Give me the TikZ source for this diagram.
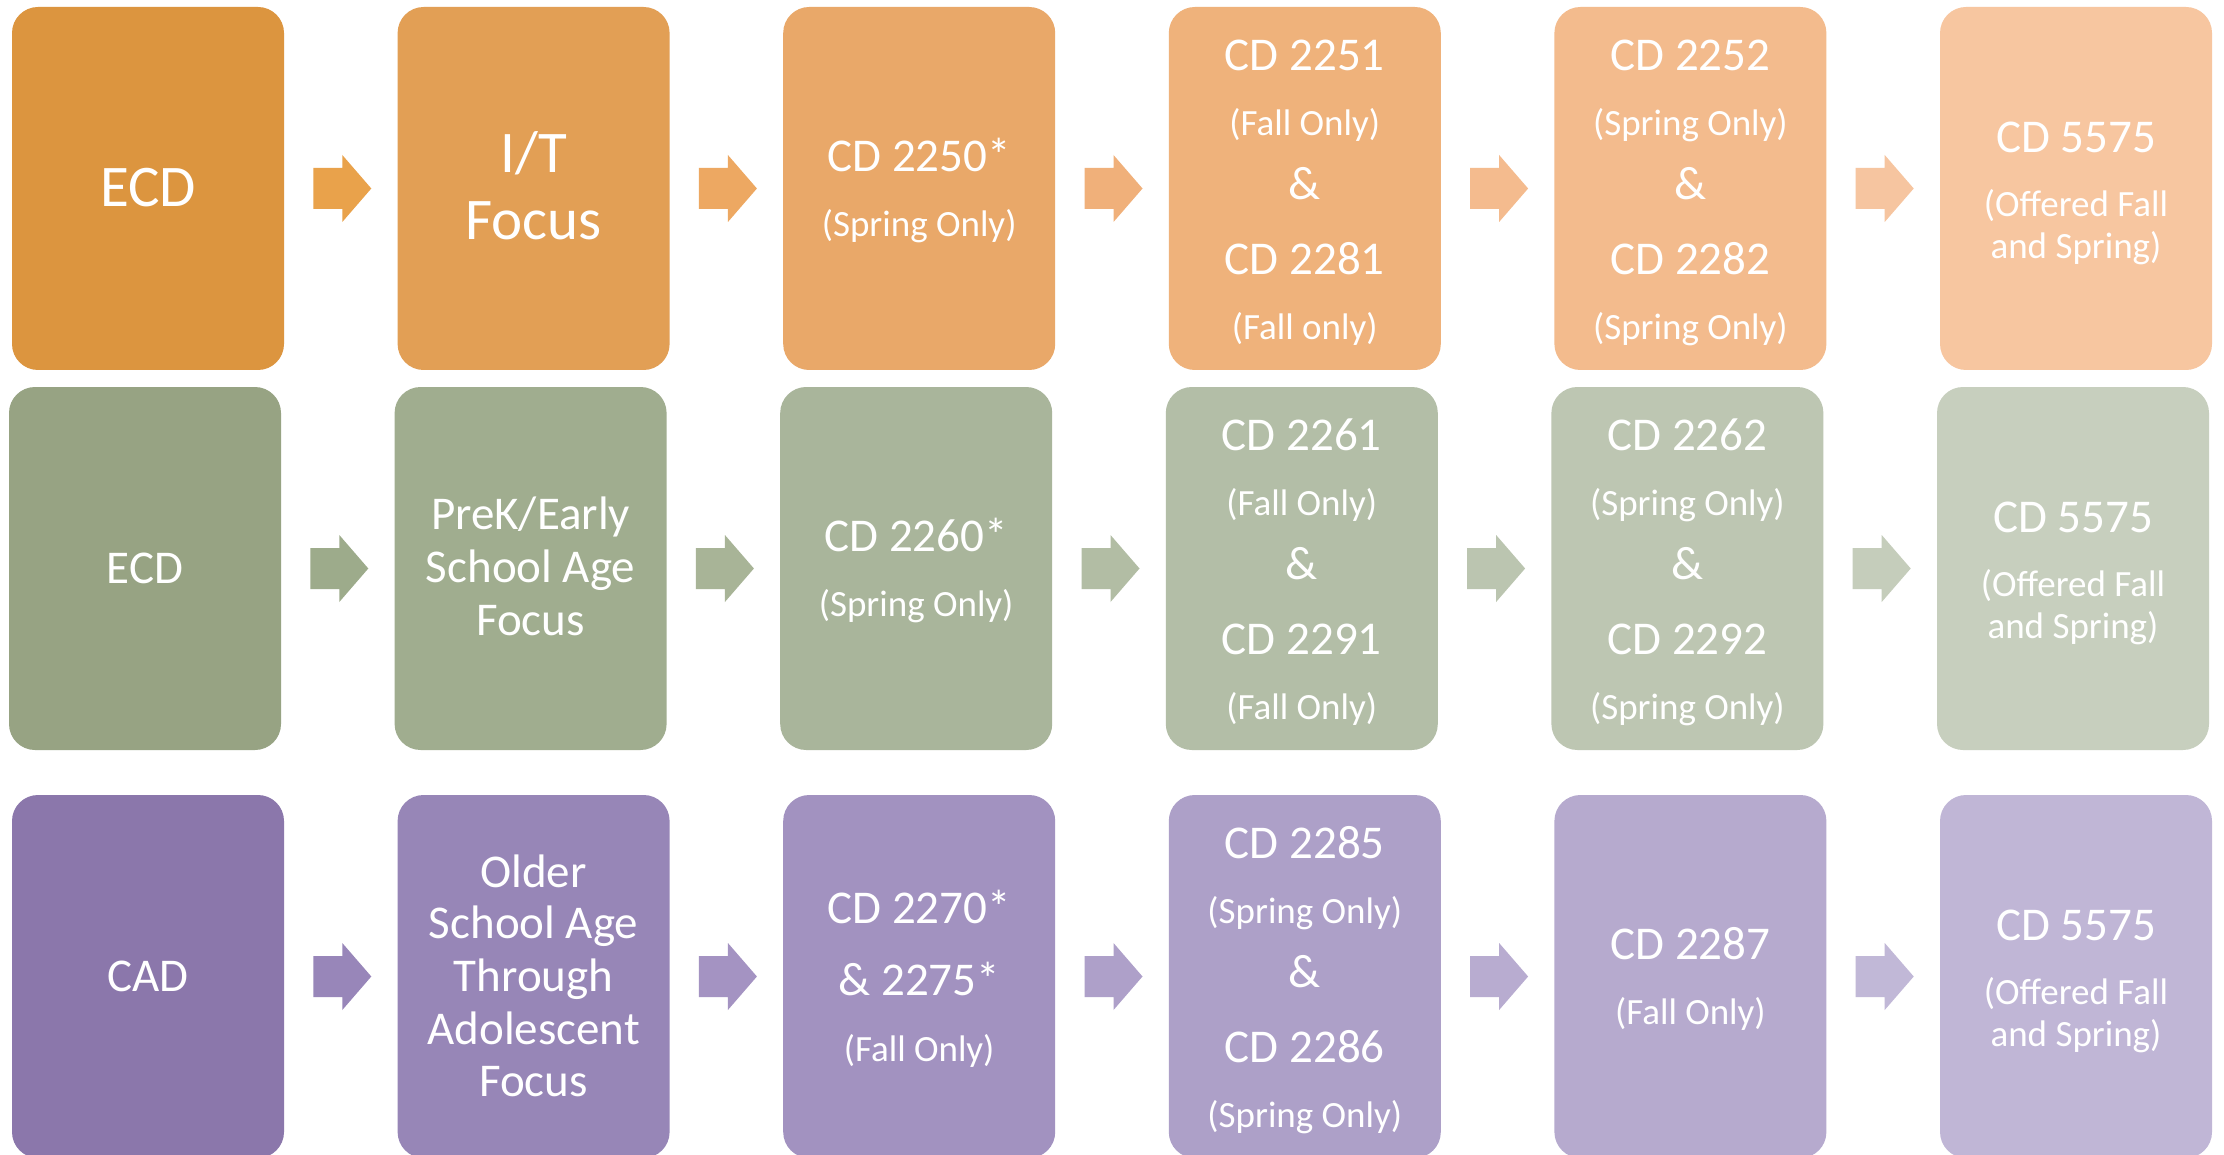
\documentclass[tikz,border=0pt]{standalone}
\usepackage{fontspec}
\setmainfont{Carlito}
\usetikzlibrary{calc}
\newcommand\Lf{\fontsize{47}{56}\selectfont}
\newcommand\Sf{\fontsize{37}{44}\selectfont}
\newcommand\Xf{\fontsize{59}{70}\selectfont}
% boxes
\definecolor{oa}{HTML}{DC953F}\definecolor{ob}{HTML}{E29F55}\definecolor{oc}{HTML}{E9A869}
\definecolor{od}{HTML}{EFB27B}\definecolor{oe}{HTML}{F3BB8D}\definecolor{of}{HTML}{F7C6A0}
\definecolor{ga}{HTML}{97A383}\definecolor{gb}{HTML}{A0AD8F}\definecolor{gc}{HTML}{A9B59B}
\definecolor{gd}{HTML}{B3BEA7}\definecolor{ge}{HTML}{BDC6B2}\definecolor{gf}{HTML}{C7CFBE}
\definecolor{pa}{HTML}{8B77AB}\definecolor{pb}{HTML}{9786B7}\definecolor{pc}{HTML}{A292C0}
\definecolor{pd}{HTML}{ADA0C8}\definecolor{pe}{HTML}{B6AACE}\definecolor{pf}{HTML}{C0B6D6}
% arrows
\definecolor{oA}{HTML}{E9A24B}\definecolor{oB}{HTML}{EDA862}\definecolor{oC}{HTML}{F0B07A}
\definecolor{oD}{HTML}{F4BB8E}\definecolor{oE}{HTML}{F6C5A0}
\definecolor{gA}{HTML}{9DAB8B}\definecolor{gB}{HTML}{A8B497}\definecolor{gC}{HTML}{B2BDA4}
\definecolor{gD}{HTML}{BBC5B0}\definecolor{gE}{HTML}{C5CDBB}
\definecolor{pA}{HTML}{9886B9}\definecolor{pB}{HTML}{A493C2}\definecolor{pC}{HTML}{AEA0C9}
\definecolor{pD}{HTML}{B8ACD0}\definecolor{pE}{HTML}{C1B8D7}
\newcommand\tline[5]{\node[tl,font=#4] (#1) at ($(#2)+(0,#3)$) {#5};}
\newcommand\barrow[4]{%
  \coordinate (#1) at ($(#2.east)!0.5!(#3.west)+(1.5,0)$);
  \fill[#4] ($(#1)+(-29,-20.5)$) -- ++(29,0) -- ++(0,-13) -- ++(29,33.5)
    -- ++(-29,33.5) -- ++(0,-13) -- ++(-29,0) -- cycle;}
\begin{document}
\begin{tikzpicture}[x=1pt,y=-1pt,
  boxst/.style={rounded corners=26pt, minimum width=272pt, minimum height=363pt,
    inner sep=0pt, draw=none},
  tl/.style={text=white, anchor=base, inner sep=0pt}]
\clip (0,0) rectangle (2224,1155);
\fill[white] (0,0) rectangle (2224,1155);
% ---------------- row 1 ----------------
\node[boxst,fill=oa] (r1c1) at (148,188.5) {};
\node[boxst,fill=ob] (r1c2) at (533.6,188.5) {};
\node[boxst,fill=oc] (r1c3) at (919.2,188.5) {};
\node[boxst,fill=od] (r1c4) at (1304.8,188.5) {};
\node[boxst,fill=oe] (r1c5) at (1690.4,188.5) {};
\node[boxst,fill=of] (r1c6) at (2076,188.5) {};
\barrow{r1a1}{r1c1}{r1c2}{oA}
\barrow{r1a2}{r1c2}{r1c3}{oB}
\barrow{r1a3}{r1c3}{r1c4}{oC}
\barrow{r1a4}{r1c4}{r1c5}{oD}
\barrow{r1a5}{r1c5}{r1c6}{oE}
\tline{t11a}{r1c1}{18}{\Xf}{ECD}
\tline{t12a}{r1c2}{-16}{\Xf}{I/T}
\tline{t12b}{r1c2}{51}{\Xf}{Focus}
\tline{t13a}{r1c3}{-17}{\Lf}{CD 2250*}
\tline{t13b}{r1c3}{48}{\Sf}{(Spring Only)}
\tline{t14a}{r1c4}{-118}{\Lf}{CD 2251}
\tline{t14b}{r1c4}{-53}{\Sf}{(Fall Only)}
\tline{t14c}{r1c4}{11}{\Lf}{\&}
\tline{t14d}{r1c4}{86}{\Lf}{CD 2281}
\tline{t14e}{r1c4}{151}{\Sf}{(Fall only)}
\tline{t15a}{r1c5}{-118}{\Lf}{CD 2252}
\tline{t15b}{r1c5}{-53}{\Sf}{(Spring Only)}
\tline{t15c}{r1c5}{11}{\Lf}{\&}
\tline{t15d}{r1c5}{86}{\Lf}{CD 2282}
\tline{t15e}{r1c5}{151}{\Sf}{(Spring Only)}
\tline{t16a}{r1c6}{-36}{\Lf}{CD 5575}
\tline{t16b}{r1c6}{28}{\Sf}{(Offered Fall}
\tline{t16c}{r1c6}{70}{\Sf}{and Spring)}
% ---------------- row 2 ----------------
\node[boxst,fill=ga] (r2c1) at (145,568.5) {};
\node[boxst,fill=gb] (r2c2) at (530.6,568.5) {};
\node[boxst,fill=gc] (r2c3) at (916.2,568.5) {};
\node[boxst,fill=gd] (r2c4) at (1301.8,568.5) {};
\node[boxst,fill=ge] (r2c5) at (1687.4,568.5) {};
\node[boxst,fill=gf] (r2c6) at (2073,568.5) {};
\barrow{r2a1}{r2c1}{r2c2}{gA}
\barrow{r2a2}{r2c2}{r2c3}{gB}
\barrow{r2a3}{r2c3}{r2c4}{gC}
\barrow{r2a4}{r2c4}{r2c5}{gD}
\barrow{r2a5}{r2c5}{r2c6}{gE}
\tline{t21a}{r2c1}{15}{\Lf}{ECD}
\tline{t22a}{r2c2}{-39}{\Lf}{PreK/Early}
\tline{t22b}{r2c2}{14}{\Lf}{School Age}
\tline{t22c}{r2c2}{67}{\Lf}{Focus}
\tline{t23a}{r2c3}{-17}{\Lf}{CD 2260*}
\tline{t23b}{r2c3}{48}{\Sf}{(Spring Only)}
\tline{t24a}{r2c4}{-118}{\Lf}{CD 2261}
\tline{t24b}{r2c4}{-53}{\Sf}{(Fall Only)}
\tline{t24c}{r2c4}{11}{\Lf}{\&}
\tline{t24d}{r2c4}{86}{\Lf}{CD 2291}
\tline{t24e}{r2c4}{151}{\Sf}{(Fall Only)}
\tline{t25a}{r2c5}{-118}{\Lf}{CD 2262}
\tline{t25b}{r2c5}{-53}{\Sf}{(Spring Only)}
\tline{t25c}{r2c5}{11}{\Lf}{\&}
\tline{t25d}{r2c5}{86}{\Lf}{CD 2292}
\tline{t25e}{r2c5}{151}{\Sf}{(Spring Only)}
\tline{t26a}{r2c6}{-36}{\Lf}{CD 5575}
\tline{t26b}{r2c6}{28}{\Sf}{(Offered Fall}
\tline{t26c}{r2c6}{70}{\Sf}{and Spring)}
% ---------------- row 3 ----------------
\node[boxst,fill=pa] (r3c1) at (148,976.5) {};
\node[boxst,fill=pb] (r3c2) at (533.6,976.5) {};
\node[boxst,fill=pc] (r3c3) at (919.2,976.5) {};
\node[boxst,fill=pd] (r3c4) at (1304.8,976.5) {};
\node[boxst,fill=pe] (r3c5) at (1690.4,976.5) {};
\node[boxst,fill=pf] (r3c6) at (2076,976.5) {};
\barrow{r3a1}{r3c1}{r3c2}{pA}
\barrow{r3a2}{r3c2}{r3c3}{pB}
\barrow{r3a3}{r3c3}{r3c4}{pC}
\barrow{r3a4}{r3c4}{r3c5}{pD}
\barrow{r3a5}{r3c5}{r3c6}{pE}
\tline{t31a}{r3c1}{15}{\Lf}{CAD}
\tline{t32a}{r3c2}{-89}{\Lf}{Older}
\tline{t32b}{r3c2}{-38}{\Lf}{School Age}
\tline{t32c}{r3c2}{15}{\Lf}{Through}
\tline{t32d}{r3c2}{68}{\Lf}{Adolescent}
\tline{t32e}{r3c2}{120}{\Lf}{Focus}
\tline{t33a}{r3c3}{-53}{\Lf}{CD 2270*}
\tline{t33b}{r3c3}{19}{\Lf}{\& 2275*}
\tline{t33c}{r3c3}{85}{\Sf}{(Fall Only)}
\tline{t34a}{r3c4}{-118}{\Lf}{CD 2285}
\tline{t34b}{r3c4}{-53}{\Sf}{(Spring Only)}
\tline{t34c}{r3c4}{11}{\Lf}{\&}
\tline{t34d}{r3c4}{86}{\Lf}{CD 2286}
\tline{t34e}{r3c4}{151}{\Sf}{(Spring Only)}
\tline{t35a}{r3c5}{-17}{\Lf}{CD 2287}
\tline{t35b}{r3c5}{48}{\Sf}{(Fall Only)}
\tline{t36a}{r3c6}{-36}{\Lf}{CD 5575}
\tline{t36b}{r3c6}{28}{\Sf}{(Offered Fall}
\tline{t36c}{r3c6}{70}{\Sf}{and Spring)}
\end{tikzpicture}
\end{document}
